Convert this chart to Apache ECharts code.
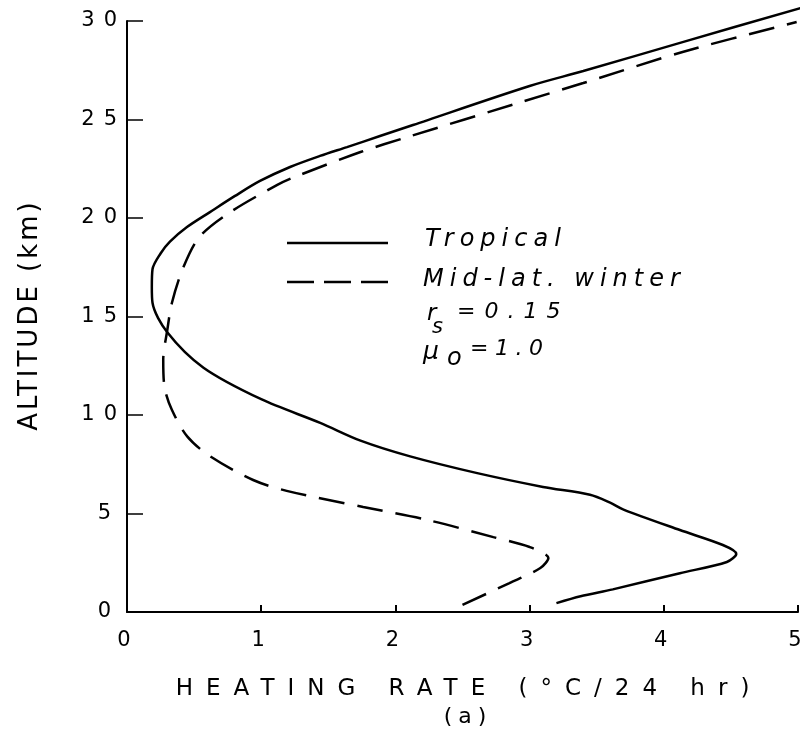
<!DOCTYPE html>
<html>
<head>
<meta charset="utf-8">
<script src="https://cdn.jsdelivr.net/npm/echarts@6/dist/echarts.min.js"></script>
<style>html,body{margin:0;padding:0;background:#fff;}#c{width:812px;height:729px;}</style>
</head>
<body>
<div id="c"></div>
<script>
// Tropical (solid): heating rate (°C/24 hr) vs altitude (km)
const tropicalRate = [3.20, 3.38, 3.62, 4.12, 4.47, 4.54, 4.44, 4.12, 3.70, 3.60, 3.45, 3.10, 2.61, 2.11, 1.74, 1.44, 1.00, 0.57, 0.30, 0.19, 0.185, 0.19, 0.25, 0.32, 0.447, 0.618, 0.805, 0.991, 1.215, 1.438, 1.639, 1.885, 2.131, 3.00, 3.40, 4.14, 5.02];
const tropicalAlt  = [0.45, 0.80, 1.15, 1.97, 2.54, 2.95, 3.40, 4.16, 5.20, 5.55, 5.95, 6.35, 7.05, 7.90, 8.70, 9.60, 10.80, 12.40, 14.20, 15.70, 16.50, 17.40, 18.20, 18.80, 19.54, 20.30, 21.12, 21.88, 22.59, 23.15, 23.60, 24.16, 24.72, 26.70, 27.46, 28.93, 30.66];
// Mid-latitude winter (dashed)
const winterRate = [2.50, 2.85, 3.08, 3.14, 3.00, 2.73, 2.24, 1.76, 1.19, 0.94, 0.62, 0.45, 0.335, 0.28, 0.27, 0.30, 0.335, 0.42, 0.54, 0.77, 1.12, 1.23, 1.74, 2.09, 2.94, 3.40, 4.14, 4.99];
const winterAlt  = [0.36, 1.47, 2.23, 2.74, 3.30, 3.80, 4.67, 5.33, 6.15, 6.70, 7.90, 8.90, 10.25, 11.40, 12.80, 14.30, 15.70, 17.50, 19.04, 20.30, 21.68, 22.03, 23.35, 24.11, 25.89, 26.85, 28.43, 29.95];

const xTicks = [0, 1, 2, 3, 4, 5];
const yTicks = [0, 5, 10, 15, 20, 25, 30];
const seriesNames = ['Tropical', 'Mid-lat. winter'];
const xTitle = 'HEATING RATE (°C/24 hr)';
const yTitle = 'ALTITUDE (km)';
const paramRs = '=0.15';
const paramMu = '=1.0';
const panelLabel = '(a)';

// letter spacing (px) used by the widely spaced lettering of the original
const SPACING = {};
SPACING[xTitle] = 13; SPACING[yTitle] = 3;
SPACING[seriesNames[0]] = 6; SPACING[seriesNames[1]] = 6;
SPACING[paramRs] = 9; SPACING[paramMu] = 6.5; SPACING[panelLabel] = 6;
['10', '15', '20', '25', '30'].forEach(function (t) { SPACING[t] = 9; });

(function () {
  const proto = CanvasRenderingContext2D.prototype;
  const orig = proto.fillText;
  proto.fillText = function (t, x, y, w) {
    const sp = SPACING[t];
    if (sp && ('letterSpacing' in this)) {
      const prev = this.letterSpacing;
      this.letterSpacing = sp + 'px';
      let dx = 0;
      if (this.textAlign === 'center') dx = sp / 2;
      else if (this.textAlign === 'right' || this.textAlign === 'end') dx = sp;
      if (w === undefined) orig.call(this, t, x + dx, y); else orig.call(this, t, x + dx, y, w);
      this.letterSpacing = prev;
      return;
    }
    if (w === undefined) return orig.call(this, t, x, y);
    return orig.call(this, t, x, y, w);
  };
})();

const pairs = (xs, ys) => xs.map((v, i) => [v, ys[i]]);

const FONT = 'DejaVu Sans';
const chart = echarts.init(document.getElementById('c'), null, {renderer: 'canvas'});
chart.setOption({
  backgroundColor: '#fff',
  animation: false,
  grid: {left: 127, right: 14, top: 21, bottom: 117, containLabel: false},
  xAxis: {
    type: 'value', min: xTicks[0], max: xTicks[xTicks.length - 1], interval: 1,
    name: xTitle, nameLocation: 'middle', nameGap: 66,
    nameTextStyle: {fontFamily: FONT, fontSize: 23, color: '#000'},
    axisLine: {show: true, lineStyle: {color: '#000', width: 2}},
    axisTick: {show: true, inside: true, length: 7, lineStyle: {color: '#000', width: 2}},
    axisLabel: {fontFamily: FONT, fontSize: 21, color: '#000', margin: 18},
    splitLine: {show: false}
  },
  yAxis: {
    type: 'value', min: yTicks[0], max: yTicks[yTicks.length - 1], interval: 5,
    name: yTitle, nameLocation: 'middle', nameGap: 84, nameRotate: 90,
    nameTextStyle: {fontFamily: FONT, fontSize: 26, color: '#000'},
    axisLine: {show: true, lineStyle: {color: '#000', width: 2}},
    axisTick: {show: true, inside: true, length: 16, lineStyle: {color: '#000', width: 1.5}},
    axisLabel: {fontFamily: FONT, fontSize: 21, color: '#000', margin: 10},
    splitLine: {show: false}
  },
  series: [
    {
      name: seriesNames[0], type: 'line', data: pairs(tropicalRate, tropicalAlt),
      smooth: 0.3, showSymbol: false, clip: false,
      lineStyle: {color: '#000', width: 2.5}
    },
    {
      name: seriesNames[1], type: 'line', data: pairs(winterRate, winterAlt),
      smooth: 0.3, showSymbol: false, clip: false,
      lineStyle: {color: '#000', width: 2.5, type: [26, 13]}
    }
  ],
  graphic: [
    {type: 'line', shape: {x1: 287, y1: 243, x2: 388, y2: 243}, style: {stroke: '#000', lineWidth: 2.5}},
    {type: 'line', shape: {x1: 287, y1: 282, x2: 388, y2: 282}, style: {stroke: '#000', lineWidth: 2.5, lineDash: [27, 10]}},
    {type: 'text', x: 425, y: 240, style: {text: seriesNames[0], font: 'italic 24px "DejaVu Sans"', fill: '#000', verticalAlign: 'middle'}},
    {type: 'text', x: 423, y: 280, style: {text: seriesNames[1], font: 'italic 24px "DejaVu Sans"', fill: '#000', verticalAlign: 'middle'}},
    {type: 'text', x: 427, y: 314, style: {text: 'r', font: 'italic 23px "DejaVu Sans"', fill: '#000', verticalAlign: 'middle'}},
    {type: 'text', x: 432, y: 328, style: {text: 's', font: 'italic 21px "DejaVu Sans"', fill: '#000', verticalAlign: 'middle'}},
    {type: 'text', x: 457, y: 312, style: {text: paramRs, font: 'italic 22px "DejaVu Sans"', fill: '#000', verticalAlign: 'middle'}},
    {type: 'text', x: 423, y: 352, style: {text: 'μ', font: 'italic 25px "DejaVu Sans"', fill: '#000', verticalAlign: 'middle'}},
    {type: 'text', x: 447, y: 359, style: {text: 'o', font: 'italic 24px "DejaVu Sans"', fill: '#000', verticalAlign: 'middle'}},
    {type: 'text', x: 470, y: 349, style: {text: paramMu, font: 'italic 22px "DejaVu Sans"', fill: '#000', verticalAlign: 'middle'}},
    {type: 'text', x: 465, y: 717, style: {text: panelLabel, font: '22px "DejaVu Sans"', fill: '#000', textAlign: 'center', verticalAlign: 'middle'}}
  ]
});
</script>
</body>
</html>
